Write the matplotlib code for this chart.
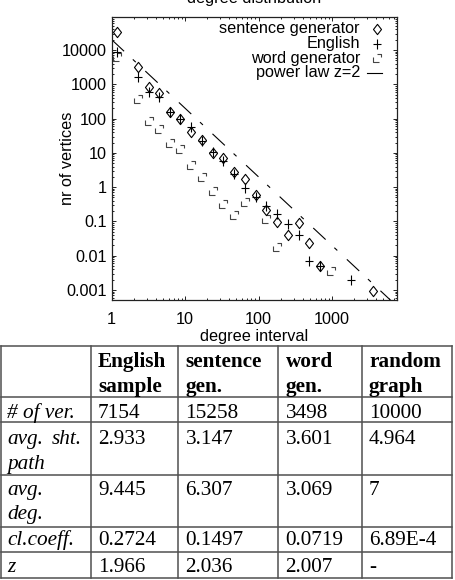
import matplotlib
matplotlib.use("Agg")
import matplotlib.pyplot as plt
from matplotlib.path import Path
from matplotlib.ticker import LogLocator, NullFormatter, FixedLocator, FixedFormatter

plt.rcParams['font.family'] = ['Liberation Sans', 'DejaVu Sans']
plt.rcParams['lines.scale_dashes'] = False

# ---------------- data ----------------
title = "degree distribution"
xlabel = "degree interval"
ylabel = "nr of vertices"
legend_labels = ["sentence generator", "English", "word generator", "power law z=2"]

sent_x = [1.17, 2.3, 3.22, 4.45, 6.2, 8.6, 12.1, 17.0, 23.8, 33.1, 46.8, 66.1, 91.5,
          128, 179, 250, 353, 492, 689, 3664]
sent_y = [33500, 3250, 850, 560, 160, 98, 40, 23.7, 10.1, 7.0, 2.75, 1.7, 0.6,
          0.22, 0.097, 0.041, 0.089, 0.023, 0.005, 0.00096]

eng_x = [1.17, 2.3, 3.22, 4.45, 6.2, 8.6, 12.1, 17.0, 23.8, 33.1, 46.8, 66.1, 91.5,
         128, 179, 250, 353, 492, 689, 1838]
eng_y = [9000, 1660, 615, 440, 160, 100, 58, 22.6, 10.8, 5.9, 2.5, 0.97, 0.53,
         0.29, 0.165, 0.087, 0.04, 0.0072, 0.005, 0.0019]

word_x = [1.17, 2.3, 3.22, 4.45, 6.2, 8.6, 12.1, 17.0, 23.8, 33.1, 46.8, 66.1,
          128, 179, 963]
word_y = [6200, 364, 87, 49, 19, 13.4, 4.4, 1.94, 0.78, 0.32, 0.155, 0.38,
          0.115, 0.018, 0.0036]

power_C = 2.0e4
power_z = 2.0
power_x = [1.0, 8000.0]
power_y = [power_C * x ** (-power_z) for x in power_x]

x_ticks = [1, 10, 100, 1000]
x_ticklabels = ["1", "10", "100", "1000"]
y_ticks = [1e4, 1e3, 1e2, 1e1, 1e0, 1e-1, 1e-2, 1e-3]
y_ticklabels = ["10000", "1000", "100", "10", "1", "0.1", "0.01", "0.001"]

table_header = ["English\nsample", "sentence\ngen.", "word\ngen.", "random\ngraph"]
row_labels = ["# of ver.", "avg. sht. path", "avg. deg.", "cl.coeff.", "z"]
english_col = ["7154", "2.933", "9.445", "0.2724", "1.966"]
sentence_col = ["15258", "3.147", "6.307", "0.1497", "2.036"]
word_col = ["3498", "3.601", "3.069", "0.0719", "2.007"]
random_col = ["10000", "4.964", "7", "6.89E-4", "-"]

# ---------------- figure ----------------
W, H = 456, 580
fig = plt.figure(figsize=(W / 100, H / 100), dpi=100)

L, R, T, B = 111.7, 396.7, 17.0, 300.0
ax = fig.add_axes([L / W, 1 - B / H, (R - L) / W, (B - T) / H])
ax.set_xscale('log')
ax.set_yscale('log')
xpx_dec = 73.4
ypx_dec = 34.29
ax.set_xlim(1, 10 ** ((R - L) / xpx_dec))
ax.set_ylim(10 ** (4 - (B - 50) / ypx_dec), 10 ** (4 + (50 - T) / ypx_dec))

diamond = Path([(0, 1), (0.78, 0), (0, -1), (-0.78, 0), (0, 1)],
               [Path.MOVETO, Path.LINETO, Path.LINETO, Path.LINETO, Path.CLOSEPOLY])
plus = Path([(-0.8, 0), (0.8, 0), (0, -1), (0, 1)],
            [Path.MOVETO, Path.LINETO, Path.MOVETO, Path.LINETO])
wordm = Path([(-1, 0.25), (-1, -1), (0.35, -1), (0.05, 1), (1, 1), (1, 0.3)],
             [Path.MOVETO, Path.LINETO, Path.LINETO, Path.MOVETO, Path.LINETO, Path.LINETO])

mk_sent = dict(marker=diamond, markersize=7.4, mfc='none', mec='black', mew=0.8, ls='none')
mk_eng = dict(marker=plus, markersize=7.0, mfc='none', mec='black', mew=0.8, ls='none')
mk_word = dict(marker=wordm, markersize=6.3, mfc='none', mec='#444444', mew=0.8, ls='none')

ax.plot(power_x, power_y, color='black', lw=0.8, dashes=(12.2, 8.6, 2.9, 9.4))
ax.plot(word_x, word_y, **mk_word)
ax.plot(eng_x, eng_y, **mk_eng)
ax.plot(sent_x, sent_y, **mk_sent)

ax.xaxis.set_major_locator(FixedLocator(x_ticks))
ax.xaxis.set_major_formatter(FixedFormatter(x_ticklabels))
ax.yaxis.set_major_locator(FixedLocator(y_ticks))
ax.yaxis.set_major_formatter(FixedFormatter(y_ticklabels))
ax.xaxis.set_minor_locator(LogLocator(base=10, subs=range(2, 10), numticks=20))
ax.yaxis.set_minor_locator(LogLocator(base=10, subs=range(2, 10), numticks=20))
ax.xaxis.set_minor_formatter(NullFormatter())
ax.yaxis.set_minor_formatter(NullFormatter())
ax.tick_params(which='both', direction='in', top=True, right=True, color='#222222', width=0.7)
ax.tick_params(which='major', length=3.2)
ax.tick_params(which='minor', length=1.6)
ax.tick_params(axis='x', which='major', pad=8.4, labelsize=11.7)
ax.tick_params(axis='y', which='major', pad=3.6, labelsize=11.7)
for s in ax.spines.values():
    s.set_linewidth(0.9)
    s.set_color('#222222')

ax.set_ylabel(ylabel, fontsize=11.7)
ax.yaxis.set_label_coords((67 - L) / (R - L), 0.5)
ax.yaxis.label.set_va('center')
ax.set_xlabel(xlabel, fontsize=11.7)
ax.xaxis.set_label_coords(0.5, (B - 341) / (B - T))
ax.xaxis.label.set_va('baseline')

# ---------------- overlay in pixel coordinates ----------------
ov = fig.add_axes([0, 0, 1, 1], facecolor='none')
ov.set_xlim(0, W)
ov.set_ylim(H, 0)
ov.axis('off')

ov.text(254, 2.5, title, ha='center', va='baseline', fontsize=11.7)

# legend
leg_base = [33.3, 48.0, 62.7, 77.4]
leg_text_x = 360
leg_mark_x = 376.7
ov.text(leg_text_x, leg_base[0], legend_labels[0], ha='right', va='baseline', fontsize=11.7)
ov.text(leg_text_x, leg_base[1], legend_labels[1], ha='right', va='baseline', fontsize=11.7)
ov.text(leg_text_x, leg_base[2], legend_labels[2], ha='right', va='baseline', fontsize=11.7)
ov.text(leg_text_x, leg_base[3], legend_labels[3], ha='right', va='baseline', fontsize=11.7)
ov.plot([leg_mark_x], [leg_base[0] - 4.3], **mk_sent)
ov.plot([leg_mark_x], [leg_base[1] - 4.3], **mk_eng)
ov.plot([leg_mark_x], [leg_base[2] - 4.3], **mk_word)
ov.plot([366.7, 381.7], [leg_base[3] - 4.3] * 2, color='black', lw=0.8)

# table
col_edges = [1.0, 90.7, 178.3, 278.3, 361.7, 451.7]
row_edges = [346.0, 397.3, 422.3, 475.0, 526.7, 551.7, 578.3]
lc = '#505050'
for x in col_edges:
    ov.plot([x, x], [row_edges[0], row_edges[-1]], color=lc, lw=1.1, solid_capstyle='projecting')
for y in row_edges:
    ov.plot([col_edges[0], col_edges[-1]], [y, y], color=lc, lw=1.1, solid_capstyle='projecting')

serif = ['Liberation Serif', 'DejaVu Serif']
fs = 15.3
pad = 7.3
header_base = [366.7, 391.7]
for j, h in enumerate(table_header):
    for k, line in enumerate(h.split("\n")):
        ov.text(col_edges[j + 1] + pad, header_base[k], line, family=serif, fontsize=fs,
                fontweight='bold', ha='left', va='baseline')

row_base = [418.3, 444.0, 495.0, 545.0, 571.7]
second_line = 24.5
# row labels (italic); justified multi-word labels split across lines
ov.text(7, row_base[0], row_labels[0], family=serif, fontsize=fs, style='italic', va='baseline')
w = row_labels[1].split(" ")
ov.text(7, row_base[1], w[0], family=serif, fontsize=fs, style='italic', va='baseline')
ov.text(82, row_base[1], w[1], family=serif, fontsize=fs, style='italic', va='baseline', ha='right')
ov.text(7, row_base[1] + second_line, w[2], family=serif, fontsize=fs, style='italic', va='baseline')
w = row_labels[2].split(" ")
ov.text(7, row_base[2], w[0], family=serif, fontsize=fs, style='italic', va='baseline')
ov.text(7, row_base[2] + second_line, w[1], family=serif, fontsize=fs, style='italic', va='baseline')
ov.text(7, row_base[3], row_labels[3], family=serif, fontsize=fs, style='italic', va='baseline')
ov.text(7, row_base[4], row_labels[4], family=serif, fontsize=fs, style='italic', va='baseline')

for j, col in enumerate([english_col, sentence_col, word_col, random_col]):
    for i, v in enumerate(col):
        ov.text(col_edges[j + 1] + pad, row_base[i], v, family=serif, fontsize=fs,
                ha='left', va='baseline')

fig.savefig("out.png", dpi=100)
